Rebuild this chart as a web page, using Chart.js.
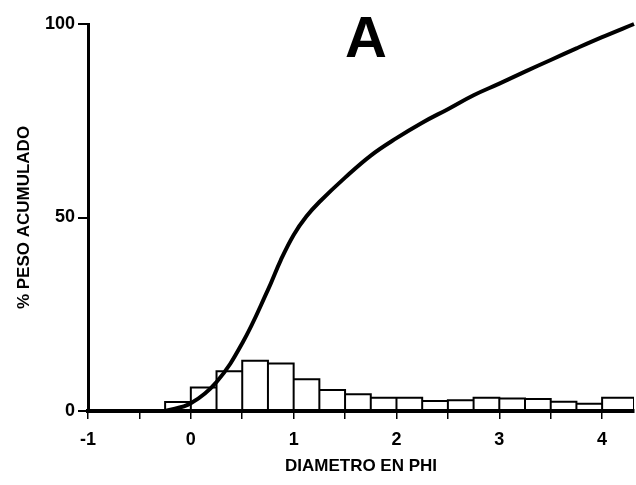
<!DOCTYPE html>
<html>
<head>
<meta charset="utf-8">
<script src="https://cdn.jsdelivr.net/npm/chart.js@4.4.1/dist/chart.umd.min.js"></script>
<style>
  body { margin: 0; background: #fff; }
  canvas { display: block; }
</style>
</head>
<body>
<canvas id="grainChart" width="636" height="485"></canvas>
<script>
// histogram bins (phi), last one is the wider fine fraction
var binEdges = [-0.25, 0, 0.25, 0.5, 0.75, 1, 1.25, 1.5, 1.75, 2, 2.25, 2.5, 2.75, 3, 3.25, 3.5, 3.75, 4, 4.31];
var binPct = [2.3, 6.1, 10.3, 13.0, 12.3, 8.2, 5.4, 4.3, 3.4, 3.4, 2.6, 2.8, 3.4, 3.2, 3.1, 2.4, 1.9, 3.4];

// cumulative curve
var cumPhi = [-0.25, 0, 0.25, 0.5, 0.75, 0.875, 1, 1.125, 1.25, 1.5, 1.75, 2, 2.25, 2.5, 2.75, 3, 3.25, 3.5, 3.75, 4, 4.31];
var cumPct = [0, 2.0, 7.5, 17.5, 31.3, 39.0, 45.5, 50.3, 54.0, 60.3, 66.0, 70.5, 74.5, 78, 81.6, 84.6, 87.7, 90.7, 93.7, 96.6, 100];

var xTicks = [-1, -0.5, 0, 0.5, 1, 1.5, 2, 2.5, 3, 3.5, 4];
var yTicks = [0, 50, 100];

var fontFam = '"Liberation Sans", Arial, sans-serif';

// outline of every bar, going back down to 0 between them
var barPts = [];
for (var i = 0; i < binPct.length; i++) {
    barPts.push({ x: binEdges[i], y: 0 });
    barPts.push({ x: binEdges[i], y: binPct[i] });
    barPts.push({ x: binEdges[i + 1], y: binPct[i] });
    barPts.push({ x: binEdges[i + 1], y: 0 });
}

var curvePts = cumPhi.map(function (v, i) { return { x: v, y: cumPct[i] }; });

// big panel letter
var panelLetter = {
    id: 'panelLetter',
    afterDraw: function (chart) {
        var ctx = chart.ctx;
        ctx.save();
        ctx.fillStyle = '#000';
        ctx.font = 'bold 58px ' + fontFam;
        ctx.textAlign = 'center';
        ctx.textBaseline = 'alphabetic';
        ctx.fillText('A', 366, 57);
        ctx.restore();
    }
};

var ctx = document.getElementById('grainChart').getContext('2d');
var grainChart = new Chart(ctx, {
    type: 'line',
    data: {
        datasets: [{
            data: curvePts,
            borderColor: '#000',
            borderWidth: 4,
            pointRadius: 0,
            tension: 0.4,
            fill: false,
            clip: false,
            order: 1
        }, {
            data: barPts,
            borderColor: '#000',
            borderWidth: 2,
            pointRadius: 0,
            tension: 0,
            fill: false,
            order: 2
        }]
    },
    options: {
        responsive: false,
        animation: false,
        layout: { padding: { top: 24, right: 2, left: 0, bottom: 0 } },
        plugins: { legend: { display: false }, tooltip: { enabled: false } },
        scales: {
            x: {
                type: 'linear',
                min: -1,
                max: 4.31,
                afterBuildTicks: function (scale) {
                    scale.ticks = xTicks.map(function (v) { return { value: v }; });
                },
                afterFit: function (scale) { scale.height = 74; },
                ticks: {
                    color: '#000',
                    font: { family: fontFam, size: 18, weight: 'bold' },
                    padding: 10,
                    maxRotation: 0,
                    autoSkip: false,
                    callback: function (v) { return Number.isInteger(v) ? String(v) : ''; }
                },
                grid: { drawOnChartArea: false, color: '#000', lineWidth: 1.5, tickLength: 8 },
                border: { color: '#000', width: 4 },
                title: {
                    display: true,
                    text: 'DIAMETRO EN PHI',
                    color: '#000',
                    font: { family: fontFam, size: 17, weight: 'bold' },
                    padding: { top: 0, bottom: 8 }
                }
            },
            y: {
                min: 0,
                max: 100,
                afterBuildTicks: function (scale) {
                    scale.ticks = yTicks.map(function (v) { return { value: v }; });
                },
                afterFit: function (scale) { scale.width = 88; },
                ticks: {
                    color: '#000',
                    font: { family: fontFam, size: 18, weight: 'bold' },
                    padding: 3
                },
                grid: { drawOnChartArea: false, color: '#000', lineWidth: 2, tickLength: 10 },
                border: { color: '#000', width: 3 },
                title: {
                    display: true,
                    text: '% PESO ACUMULADO',
                    color: '#000',
                    font: { family: fontFam, size: 17, weight: 'bold' },
                    padding: { top: 14, bottom: 0 }
                }
            }
        }
    },
    plugins: [panelLetter]
});
</script>
</body>
</html>
